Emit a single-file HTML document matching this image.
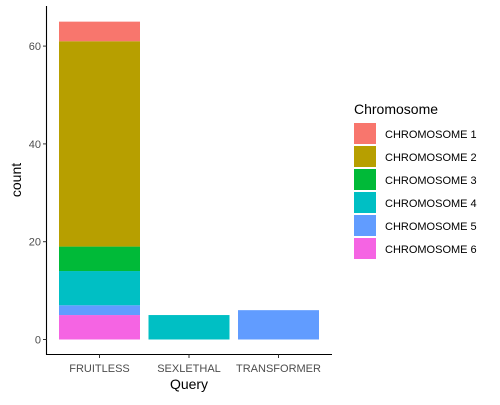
<!DOCTYPE html>
<html><head><meta charset="utf-8"><style>
body{margin:0;background:#fff;font-family:"Liberation Sans",sans-serif}
</style></head><body>
<svg width="500" height="400" xmlns="http://www.w3.org/2000/svg">
<g id="plot"></g>
<g id="legend"></g>
</svg>
<script>
const categories=["FRUITLESS","SEXLETHAL","TRANSFORMER"];
const chromosomes=["CHROMOSOME 1","CHROMOSOME 2","CHROMOSOME 3","CHROMOSOME 4","CHROMOSOME 5","CHROMOSOME 6"];
const colors=["#F8766D","#B79F00","#00BA38","#00BFC4","#619CFF","#F564E3"];
const countsFruitless=[4,42,5,7,2,5];
const countsSexlethal=[0,0,0,5,0,0];
const countsTransformer=[0,0,0,0,6,0];
const yTicks=[0,20,40,60];
const series=[countsFruitless,countsSexlethal,countsTransformer];
const NS="http://www.w3.org/2000/svg";
const plot=document.getElementById('plot'),leg=document.getElementById('legend');
function y(v){return 339.5-v*4.89;}
function xc(i){return 99.5+i*89.5;}
function mk(p,t,a,txt){const e=document.createElementNS(NS,t);for(const k in a)e.setAttribute(k,a[k]);if(txt!==undefined)e.textContent=txt;p.appendChild(e);return e;}
// bars: stack chr6 at bottom, chr1 on top
series.forEach((vals,i)=>{let base=0;for(let c=vals.length-1;c>=0;c--){if(!vals[c])continue;const r=mk(plot,'rect',{x:xc(i)-40.5,width:81,y:y(base+vals[c]),height:y(base)-y(base+vals[c]),fill:colors[c]});


base+=vals[c];}});
// axes
const ax=mk(plot,'path',{d:'M46.5,6V354.5H332',stroke:'#000','stroke-width':1.1,fill:'none'});


yTicks.forEach(t=>{mk(plot,'line',{x1:43,x2:46.5,y1:y(t),y2:y(t),stroke:'#333'});
const l=mk(plot,'text',{x:41,y:y(t)+4,'text-anchor':'end','font-size':11,fill:'#4d4d4d'},t);

});
categories.forEach((c,i)=>{mk(plot,'line',{x1:xc(i),x2:xc(i),y1:354.5,y2:358,stroke:'#333'});
const l=mk(plot,'text',{x:xc(i),y:372,'text-anchor':'middle','font-size':11,fill:'#4d4d4d'},c);

});
const xt=mk(plot,'text',{x:189,y:389,'text-anchor':'middle','font-size':14},'Query');


const yt=mk(plot,'text',{x:21,y:180,'text-anchor':'middle','font-size':14,transform:'rotate(-90 21 180)'},'count');


const lt=mk(leg,'text',{x:354,y:114,'font-size':14},'Chromosome');


chromosomes.forEach((c,i)=>{const g=mk(leg,'g',{});


mk(g,'rect',{x:354,y:123+i*23,width:22,height:21,fill:colors[i]});
mk(g,'text',{x:385,y:138+i*23,'font-size':11},c);});
</script>
</body></html>
